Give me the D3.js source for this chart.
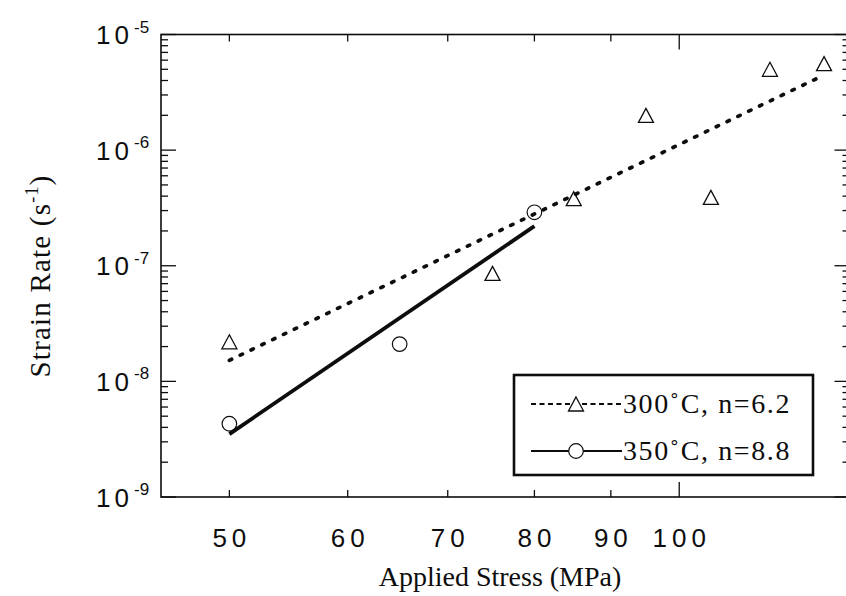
<!DOCTYPE html>
<html>
<head>
<meta charset="utf-8">
<script src="https://cdn.jsdelivr.net/npm/d3@7"></script>
<style>
  html, body { margin: 0; padding: 0; background: #fff; }
  svg { display: block; }
</style>
</head>
<body>
<div id="chart"></div>
<script>
// data
const stress300 = [50, 75, 85, 95, 105, 115, 125]           // MPa
const rate300 = [2.2e-8, 8.6e-8, 3.8e-7, 2.0e-6, 3.9e-7, 5.0e-6, 5.6e-6]
const stress350 = [50, 65, 80]
const rate350 = [4.3e-9, 2.1e-8, 2.9e-7]

// fitted lines (end points)
const fit300Stress = [50, 125]
const fit300Rate = [1.52e-8, 4.46e-6]
const fit350Stress = [50, 80]
const fit350Rate = [3.5e-9, 2.2e-7]

const xTickValues = [50, 60, 70, 80, 90, 100]
const yDecades = [-9, -8, -7, -6, -5]
const legendLabels = ["300\u02DAC, n=6.2", "350\u02DAC, n=8.8"]

const W = 846
const H = 596
const mLeft = 161, mRight = 849.5, mTop = 34.5, mBottom = 497

const x = d3.scaleLog().domain([45, 130]).range([mLeft, mRight])
const y = d3.scaleLog().domain([1e-9, 1e-5]).range([mBottom, mTop])

const svg = d3.select("#chart").append("svg")
    .attr("width", W)
    .attr("height", H)

const ink = "#0d0d0d"

// minor ticks on y: 2..9 x each decade
const yMinor = []
for (let e = -9; e < -5; e++) {
  for (let m = 2; m <= 9; m++) yMinor.push(m * Math.pow(10, e))
}
const yMajor = yDecades.map(e => Math.pow(10, e))

const tickG = svg.append("g").attr("stroke", ink).attr("stroke-width", 1.3)

// left & right y ticks (inward)
tickG.selectAll(".ymin").data(yMinor).join("line")
    .attr("x1", mLeft).attr("x2", mLeft + 7)
    .attr("y1", d => y(d)).attr("y2", d => y(d))
tickG.selectAll(".ymaj").data(yMajor).join("line")
    .attr("x1", mLeft).attr("x2", mLeft + 15)
    .attr("y1", d => y(d)).attr("y2", d => y(d))
tickG.selectAll(".ymin2").data(yMinor).join("line")
    .attr("x1", mRight).attr("x2", mRight - 7)
    .attr("y1", d => y(d)).attr("y2", d => y(d))
tickG.selectAll(".ymaj2").data(yMajor).join("line")
    .attr("x1", mRight).attr("x2", mRight - 15)
    .attr("y1", d => y(d)).attr("y2", d => y(d))

// top & bottom x ticks (inward), 100 is a decade -> long
const xLen = d => d === 100 ? 15 : 7
tickG.selectAll(".xb").data(xTickValues).join("line")
    .attr("x1", d => x(d)).attr("x2", d => x(d))
    .attr("y1", mBottom).attr("y2", d => mBottom - xLen(d))
tickG.selectAll(".xt").data(xTickValues).join("line")
    .attr("x1", d => x(d)).attr("x2", d => x(d))
    .attr("y1", mTop).attr("y2", d => mTop + xLen(d))

// frame
svg.append("rect")
    .attr("x", mLeft).attr("y", mTop)
    .attr("width", mRight - mLeft).attr("height", mBottom - mTop)
    .attr("fill", "none").attr("stroke", ink).attr("stroke-width", 1.6)

// tick labels
const numFont = "'Liberation Sans', Arial, Helvetica, sans-serif"
svg.append("g").selectAll("text").data(xTickValues).join("text")
    .attr("x", d => x(d) + 2.5)
    .attr("y", 547)
    .attr("text-anchor", "middle")
    .attr("font-family", numFont)
    .attr("font-size", 26)
    .attr("letter-spacing", 5)
    .attr("fill", ink)
    .text(d => d)

// y labels: "10" plus a raised exponent
const ylG = svg.append("g").attr("font-family", numFont).attr("fill", ink)
ylG.selectAll(".base").data(yDecades).join("text")
    .attr("x", 133)
    .attr("y", d => y(Math.pow(10, d)) + 9.5)
    .attr("text-anchor", "end")
    .attr("font-size", 26)
    .attr("letter-spacing", 4)
    .text("10")
ylG.selectAll(".exp").data(yDecades).join("text")
    .attr("x", 134)
    .attr("y", d => y(Math.pow(10, d)) - 2)
    .attr("font-size", 17)
    .text(d => d)

// axis titles
const serif = "'Liberation Serif', 'Times New Roman', Times, serif"
svg.append("text")
    .attr("x", 500).attr("y", 586)
    .attr("text-anchor", "middle")
    .attr("font-family", serif).attr("font-size", 28)
    .attr("fill", ink)
    .text("Applied Stress (MPa)")

const yt = svg.append("text")
    .attr("transform", "translate(50,276) rotate(-90)")
    .attr("text-anchor", "middle")
    .attr("font-family", serif).attr("font-size", 29)
    .attr("letter-spacing", 1.2)
    .attr("fill", ink)
yt.append("tspan").text("Strain Rate (s")
yt.append("tspan").attr("font-size", 18).attr("dy", -12).text("-1")
yt.append("tspan").attr("dy", 12).text(")")

// fit lines
const line = d3.line().x(d => x(d[0])).y(d => y(d[1]))
const fit300 = d3.zip(fit300Stress, fit300Rate)
const fit350 = d3.zip(fit350Stress, fit350Rate)

svg.append("path")
    .attr("d", line(fit300))
    .attr("fill", "none").attr("stroke", ink)
    .attr("stroke-width", 3.7)
    .attr("stroke-linecap", "round")
    .attr("stroke-dasharray", "2.5,9.5")

svg.append("path")
    .attr("d", line(fit350))
    .attr("fill", "none").attr("stroke", ink)
    .attr("stroke-width", 3.8)

// markers
const tri = "M0,-7L7.5,7L-7.5,7Z"
svg.append("g").selectAll("path").data(d3.zip(stress300, rate300)).join("path")
    .attr("transform", d => `translate(${x(d[0])},${y(d[1])})`)
    .attr("d", tri)
    .attr("fill", "none").attr("stroke", ink).attr("stroke-width", 1.3)

svg.append("g").selectAll("circle").data(d3.zip(stress350, rate350)).join("circle")
    .attr("cx", d => x(d[0])).attr("cy", d => y(d[1]))
    .attr("r", 7.3)
    .attr("fill", "none").attr("stroke", ink).attr("stroke-width", 1.2)

// legend
const lg = svg.append("g")
lg.append("rect")
    .attr("x", 514).attr("y", 375).attr("width", 299).attr("height", 100)
    .attr("fill", "#fff").attr("stroke", ink).attr("stroke-width", 2.6)

const rows = [
  {y: 404, dash: "5,3.5", mark: "tri"},
  {y: 451, dash: null, mark: "circle"}
]
rows.forEach((r, i) => {
  lg.append("line")
      .attr("x1", 531).attr("x2", 622).attr("y1", r.y).attr("y2", r.y)
      .attr("stroke", ink).attr("stroke-width", 2.2)
      .attr("stroke-dasharray", r.dash)
  if (r.mark === "tri") {
    lg.append("path").attr("d", tri)
        .attr("transform", `translate(576,${r.y})`)
        .attr("fill", "#fff").attr("stroke", ink).attr("stroke-width", 1.3)
  } else {
    lg.append("circle").attr("cx", 576).attr("cy", r.y).attr("r", 7.3)
        .attr("fill", "#fff").attr("stroke", ink).attr("stroke-width", 1.2)
  }
  lg.append("text")
      .attr("x", 623).attr("y", r.y + 9)
      .attr("font-family", serif).attr("font-size", 28)
      .attr("letter-spacing", 1.6)
      .attr("fill", ink)
      .text(legendLabels[i])
})
</script>
</body>
</html>
